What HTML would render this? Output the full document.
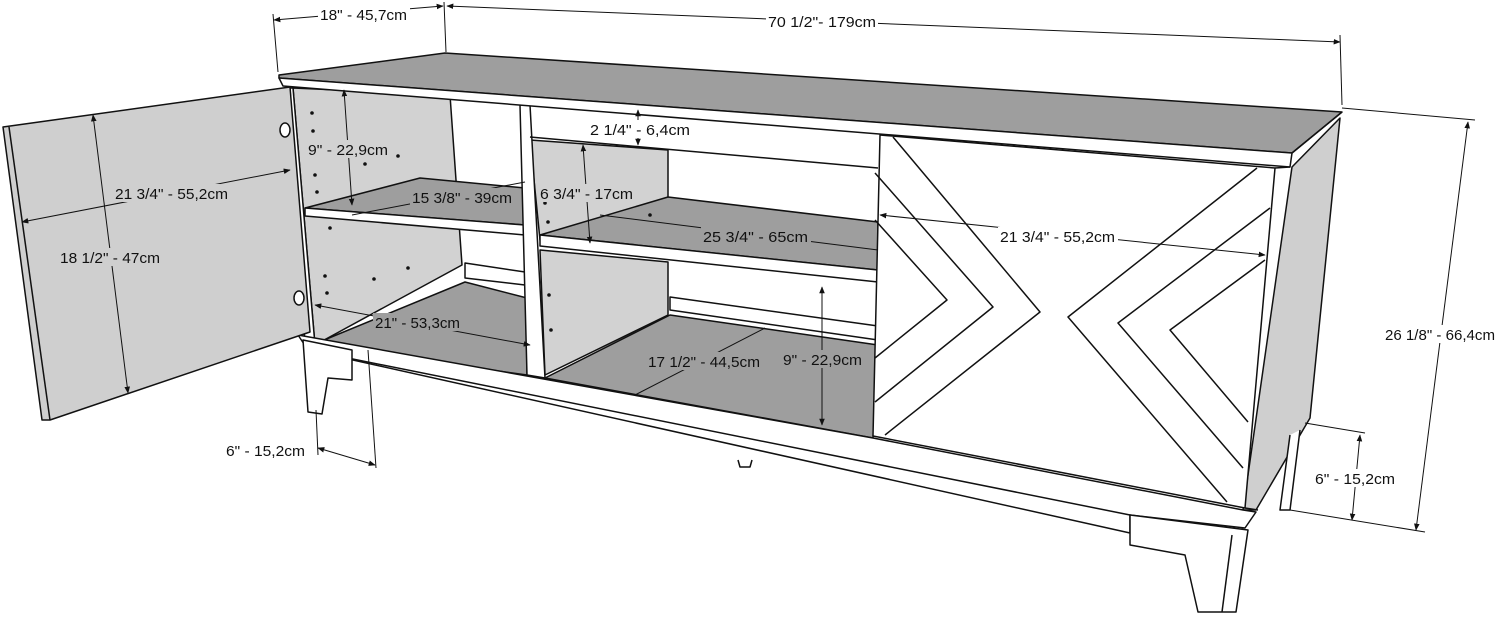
<!DOCTYPE html>
<html><head><meta charset="utf-8"><style>
html,body{margin:0;padding:0;background:#fff;}
svg{display:block}
text{font-family:"Liberation Sans",Arial,sans-serif;font-size:14.5px;fill:#111}
</style></head><body>
<svg width="1500" height="627" viewBox="0 0 1500 627" xmlns="http://www.w3.org/2000/svg">
<defs>
<marker id="a" viewBox="0 0 10 10" refX="9" refY="5" markerWidth="7" markerHeight="7" orient="auto-start-reverse"><path d="M0,1 L10,5 L0,9 z" fill="#111"/></marker>
</defs>
<g stroke="#111" stroke-width="1.5" stroke-linejoin="round">
<polygon points="1292,167 1340,118 1310,418 1256,510 1243,510" fill="#cfcfcf"/>
<polygon points="293,88 450,95 462,265 315,345" fill="#d2d2d2"/>
<polygon points="530,140 668,150 668,205 540,240" fill="#d2d2d2"/>
<polygon points="540,250 668,262 668,315 545,375" fill="#d2d2d2"/>
<polygon points="465,263 525,272 525,285 465,278" fill="#fff"/>
<polygon points="670,297 878,326 878,340 670,310" fill="#fff"/>
<polygon points="312,345 465,282 527,298 527,375" fill="#9e9e9e"/>
<polygon points="545,378 670,315 878,345 873,438" fill="#9e9e9e"/>
<polygon points="305,208 420,178 525,188 525,225" fill="#9e9e9e"/>
<polygon points="305,208 525,225 525,235 305,216" fill="#fff"/>
<polygon points="540,235 668,197 878,222 878,270" fill="#9e9e9e"/>
<polygon points="540,235 878,270 878,282 540,246" fill="#fff"/>
<polygon points="290,88 293,88 315,345 305,345" fill="#fff"/>
<polygon points="520,105 530,105 545,378 527,375" fill="#fff"/>
<line x1="530" y1="137" x2="878" y2="168"/>
<!-- top surface -->
<polygon points="279,75 445,53 1342,112 1292,153 279,78" fill="#9e9e9e"/>
<polygon points="279,78 1292,153 1290,167 283,86" fill="#fff"/>
<line x1="1292" y1="153" x2="1342" y2="112"/>
<!-- base -->
<polygon points="298,335 873,438 1243,510 1256,512 1245,528 1130,515 1130,533 308,350" fill="#fff"/>
<line x1="308" y1="350" x2="1130" y2="515"/>
<path d="M303,340 L308,412 L322,414 L328,378 L352,380 L352,350 Z" fill="#fff"/>
<path d="M1130,515 L1130,545 L1185,555 L1198,612 L1236,612 L1248,530 Z" fill="#fff"/>
<line x1="1232" y1="535" x2="1222" y2="612"/>
<path d="M1290,435 L1280,510 L1290,510 L1300,430" fill="#fff"/>
<path d="M738,460 L740,467 L750,467 L752,460" fill="#fff"/>
<!-- right door -->
<polygon points="880,135 1275,168 1245,508 873,436" fill="#fff"/>
<line x1="1275" y1="168" x2="1290" y2="167"/>
<line x1="1245" y1="508" x2="1258" y2="510"/>
<g fill="none">
<polyline points="893,137 1040,312 885,435"/>
<polyline points="875,173 993,307 875,402"/>
<polyline points="875,220 947,300 875,358"/>
<polyline points="1257,168 1068,317 1227,502"/>
<polyline points="1270,208 1118,323 1243,468"/>
<polyline points="1265,260 1170,330 1248,422"/>
</g>
<!-- left door -->
<polygon points="3,127 290,87 310,332 50,420 42,420" fill="#cfcfcf"/>
<line x1="9" y1="127" x2="50" y2="420"/>
<ellipse cx="285" cy="130" rx="5" ry="7" fill="#fff"/>
<ellipse cx="299" cy="298" rx="5" ry="7" fill="#fff"/>
</g>
<g fill="#111">
<circle cx="312" cy="113" r="1.8"/><circle cx="313" cy="131" r="1.8"/><circle cx="315" cy="175" r="1.8"/><circle cx="317" cy="192" r="1.8"/><circle cx="365" cy="164" r="1.8"/><circle cx="398" cy="156" r="1.8"/><circle cx="330" cy="228" r="1.8"/><circle cx="325" cy="276" r="1.8"/><circle cx="374" cy="279" r="1.8"/><circle cx="408" cy="268" r="1.8"/><circle cx="327" cy="293" r="1.8"/><circle cx="545" cy="203" r="1.8"/><circle cx="548" cy="222" r="1.8"/><circle cx="622" cy="200" r="1.8"/><circle cx="650" cy="215" r="1.8"/><circle cx="549" cy="295" r="1.8"/><circle cx="551" cy="330" r="1.8"/>
</g>
<g stroke="#111" stroke-width="1" fill="none">
<line x1="273" y1="14" x2="278" y2="72"/><line x1="444" y1="2" x2="446" y2="52"/>
<line x1="1340" y1="35" x2="1342" y2="105"/>
<line x1="1342" y1="108" x2="1475" y2="120"/>
<line x1="1290" y1="510" x2="1425" y2="532"/>
<line x1="1305" y1="423" x2="1365" y2="433"/>
<line x1="316" y1="410" x2="318" y2="455"/><line x1="368" y1="350" x2="376" y2="468"/>
<g marker-start="url(#a)" marker-end="url(#a)">
<line x1="274" y1="20" x2="443" y2="6"/>
<line x1="447" y1="6" x2="1340" y2="42"/>
<line x1="1468" y1="122" x2="1416" y2="530"/>
<line x1="1360" y1="435" x2="1352" y2="520"/>
<line x1="318" y1="448" x2="375" y2="465"/>
<line x1="93" y1="115" x2="128" y2="393"/>
<line x1="344" y1="90" x2="352" y2="205"/>
<line x1="638" y1="110" x2="638" y2="145"/>
<line x1="583" y1="145" x2="590" y2="243"/>
<line x1="822" y1="287" x2="822" y2="425"/>
</g>
<line x1="22" y1="222" x2="290" y2="170" marker-start="url(#a)" marker-end="url(#a)"/>
<line x1="880" y1="215" x2="1265" y2="255" marker-start="url(#a)" marker-end="url(#a)"/>
<line x1="315" y1="305" x2="530" y2="345" marker-start="url(#a)" marker-end="url(#a)"/>
<line x1="352" y1="215" x2="525" y2="182"/>
<line x1="600" y1="215" x2="878" y2="250"/>
<line x1="635" y1="395" x2="765" y2="328"/>
</g>
<g>
<rect x="318" y="6" width="92" height="18" fill="#fff"/>
<text x="320" y="20" textLength="87" lengthAdjust="spacingAndGlyphs">18" - 45,7cm</text>
<rect x="766" y="12" width="112" height="18" fill="#fff"/>
<text x="768" y="27" textLength="108" lengthAdjust="spacingAndGlyphs">70 1/2"- 179cm</text>
<rect x="113" y="184" width="118" height="18" fill="#cfcfcf"/>
<text x="115" y="199" textLength="113" lengthAdjust="spacingAndGlyphs">21 3/4" - 55,2cm</text>
<rect x="58" y="248" width="104" height="18" fill="#cfcfcf"/>
<text x="60" y="263" textLength="100" lengthAdjust="spacingAndGlyphs">18 1/2" - 47cm</text>
<rect x="306" y="140" width="84" height="18" fill="#d2d2d2"/>
<text x="308" y="155" textLength="80" lengthAdjust="spacingAndGlyphs">9" - 22,9cm</text>
<rect x="410" y="188" width="105" height="18" fill="#9e9e9e"/>
<text x="412" y="203" textLength="100" lengthAdjust="spacingAndGlyphs">15 3/8" - 39cm</text>
<rect x="588" y="120" width="104" height="18" fill="#fff"/>
<text x="590" y="135" textLength="100" lengthAdjust="spacingAndGlyphs">2 1/4" - 6,4cm</text>
<rect x="538" y="184" width="98" height="18" fill="#d2d2d2"/>
<text x="540" y="199" textLength="93" lengthAdjust="spacingAndGlyphs">6 3/4" - 17cm</text>
<rect x="701" y="227" width="110" height="18" fill="#9e9e9e"/>
<text x="703" y="242" textLength="105" lengthAdjust="spacingAndGlyphs">25 3/4" - 65cm</text>
<rect x="998" y="227" width="120" height="18" fill="#fff"/>
<text x="1000" y="242" textLength="115" lengthAdjust="spacingAndGlyphs">21 3/4" - 55,2cm</text>
<rect x="373" y="313" width="90" height="18" fill="#9e9e9e"/>
<text x="375" y="328" textLength="85" lengthAdjust="spacingAndGlyphs">21" - 53,3cm</text>
<rect x="646" y="352" width="117" height="18" fill="#9e9e9e"/>
<text x="648" y="367" textLength="112" lengthAdjust="spacingAndGlyphs">17 1/2" - 44,5cm</text>
<rect x="781" y="350" width="84" height="18" fill="#9e9e9e"/>
<text x="783" y="365" textLength="79" lengthAdjust="spacingAndGlyphs">9" - 22,9cm</text>
<text x="226" y="456" textLength="79" lengthAdjust="spacingAndGlyphs">6" - 15,2cm</text>
<rect x="1313" y="469" width="84" height="18" fill="#fff"/>
<text x="1315" y="484" textLength="80" lengthAdjust="spacingAndGlyphs">6" - 15,2cm</text>
<rect x="1383" y="325" width="115" height="18" fill="#fff"/>
<text x="1385" y="340" textLength="110" lengthAdjust="spacingAndGlyphs">26 1/8" - 66,4cm</text>
</g>
</svg>
</body></html>
